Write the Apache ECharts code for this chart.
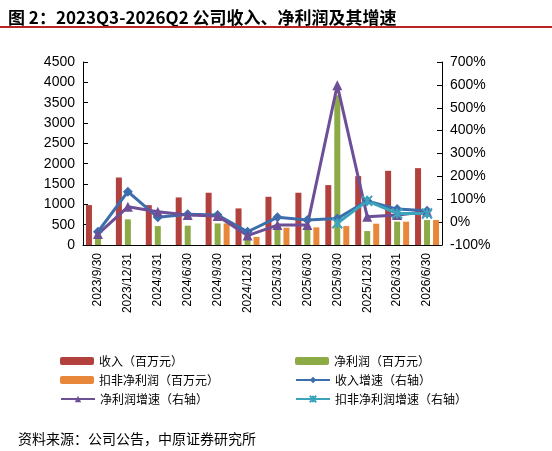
<!DOCTYPE html><html><head><meta charset="utf-8"><script src="https://cdn.jsdelivr.net/npm/echarts@6/dist/echarts.min.js"></script>
<style>body{margin:0;background:#fff}#t{position:absolute;left:8px;top:4px;font:bold 17px "Noto Sans CJK SC";color:#000}#s{position:absolute;left:18px;top:428px;font:14px "Noto Sans CJK SC"}#l{position:absolute;left:0;top:26px;width:552px;border-top:2px solid #b22}#c{width:552px;height:451px}</style></head><body>
<div id="c"></div><div id="t">图 2：2023Q3-2026Q2 公司收入、净利润及其增速</div><div id="l"></div><div id="s">资料来源：公司公告，中原证券研究所</div>
<script>
const categories=['2023/9/30','2023/12/31','2024/3/31','2024/6/30','2024/9/30','2024/12/31','2025/3/31','2025/6/30','2025/9/30','2025/12/31','2026/3/31','2026/6/30'];
const revenue=[982,1660,980,1170,1285,900,1186,1285,1473,1693,1824,1890];
const netProfit=[250,630,466,475,530,245,410,410,3680,343,573,613];
const deducted=[null,null,null,null,530,200,425,434,466,524,573,613];
const revGrowth=[-42,133,21,34,31,-42,21,9,16,93,57,50];
const npGrowth=[-52,67,45,31,27,-59,-13,-13,598,24,31,45];
const dedGrowth=[null,null,null,null,null,null,null,null,-5,93,38,38];
const names=['收入（百万元）','净利润（百万元）','扣非净利润（百万元）','收入增速（右轴）','净利润增速（右轴）','扣非净利润增速（右轴）'];
const f='"Liberation Sans",Arial';
const c=echarts.init(document.getElementById('c'));
const legends=names.map((n,i)=>({data:[n],left:(i%2)?290:55,top:350+Math.floor(i/2)*19,itemWidth:34,itemHeight:8,textStyle:{fontSize:12,fontFamily:'"Noto Sans CJK SC"',color:'#000'}}));
c.setOption({animation:false,textStyle:{fontFamily:f},
grid:{left:83,right:110,top:62,bottom:206},
legend:legends,
xAxis:{type:'category',data:categories,axisLabel:{rotate:90,fontSize:12,color:'#000',interval:0},axisLine:{lineStyle:{color:'#000'}},axisTick:{inside:true}},
yAxis:[{type:'value',min:0,max:4500,interval:500,axisLabel:{fontSize:14,color:'#000',formatter:v=>String(v)},splitLine:{show:false},axisLine:{show:true,lineStyle:{color:'#000'}},axisTick:{show:true,inside:true}},
{type:'value',min:-100,max:700,interval:100,axisLabel:{fontSize:14,color:'#000',formatter:'{value}%'},splitLine:{show:false},axisLine:{show:true,lineStyle:{color:'#000'}},axisTick:{show:true,inside:true}}],
series:[
{name:names[0],type:'bar',data:revenue,itemStyle:{color:'#b2413e'},barWidth:6,barGap:'50%'},
{name:names[1],type:'bar',data:netProfit,itemStyle:{color:'#8cab47'},barWidth:6},
{name:names[2],type:'bar',data:deducted,itemStyle:{color:'#e8873a'},barWidth:6},
{name:names[3],type:'line',yAxisIndex:1,data:revGrowth,symbol:'diamond',symbolSize:10,lineStyle:{width:3,color:'#3c6eac'},itemStyle:{color:'#3c6eac'}},
{name:names[4],type:'line',yAxisIndex:1,data:npGrowth,symbol:'triangle',symbolSize:10,lineStyle:{width:3,color:'#6d4f97'},itemStyle:{color:'#6d4f97'}},
{name:names[5],type:'line',yAxisIndex:1,data:dedGrowth,symbol:'path://M0,0L10,10M10,0L0,10M5,0L5,10',symbolSize:10,lineStyle:{width:3,color:'#3ca3bd'},itemStyle:{color:'#3ca3bd',borderColor:'#3ca3bd',borderWidth:2}}
]});
</script></body></html>
